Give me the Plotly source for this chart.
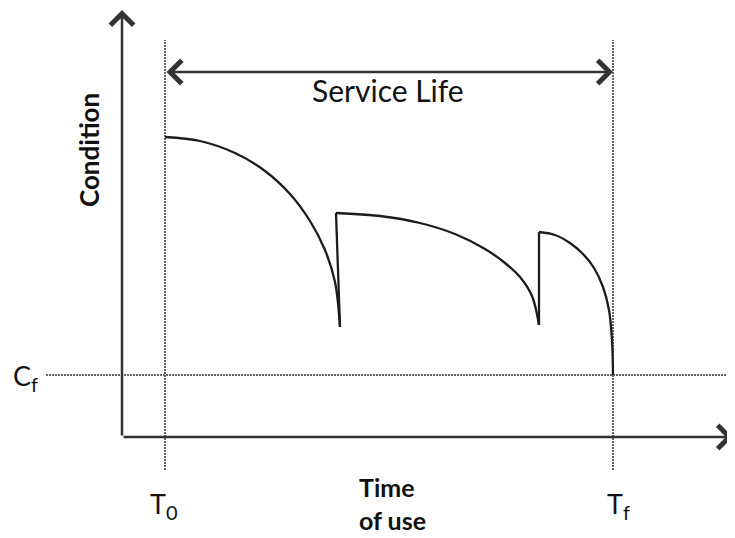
import plotly.graph_objects as go

# time / condition units: origin at the axes corner
T0 = 43
TF = 491
CF = 62

seg1_t = [43, 78, 113, 143, 168, 188, 203, 213, 218]
seg1_c = [300, 296, 284, 266, 243, 216, 187, 155, 110]

seg2_t = [214, 258, 298, 333, 363, 383, 398, 410, 417]
seg2_c = [224, 221, 214, 203, 188, 174, 160, 141, 112]

seg3_t = [417, 433, 448, 461, 472, 481, 487, 490, 491]
seg3_c = [205, 202, 194, 183, 169, 150, 127, 97, 62]

FONT = "Lato, 'Open Sans', sans-serif"
INK = "#1c1c1c"
AXIS = "#333333"
DOT = "#666666"

fig = go.Figure()

def line(x, y, shape="spline"):
    fig.add_trace(go.Scatter(x=x, y=y, mode="lines", line=dict(color=INK, width=2.3, shape=shape),
                             hoverinfo="skip", showlegend=False))

line(seg1_t, seg1_c)
line([seg1_t[-1], seg2_t[0]], [seg1_c[-1], seg2_c[0]], "linear")
line(seg2_t, seg2_c)
line([seg2_t[-1], seg3_t[0]], [seg2_c[-1], seg3_c[0]], "linear")
line(seg3_t, seg3_c)

# dotted reference lines
dot = dict(color=DOT, width=2, dash="2px,1px")
fig.add_shape(type="line", x0=T0, x1=T0, y0=-33, y1=397, line=dot, layer="below")
fig.add_shape(type="line", x0=TF, x1=TF, y0=-33, y1=397, line=dot, layer="below")
fig.add_shape(type="line", x0=-76, x1=621, y0=CF, y1=CF, line=dot, layer="below")

# axes with open arrowheads
arrow = dict(text="", showarrow=True, arrowhead=4, arrowwidth=2.5, arrowsize=1.8,
             arrowcolor=AXIS, xref="x", yref="y", axref="x", ayref="y")
fig.add_annotation(x=0, y=427, ax=0, ay=0, **arrow)
fig.add_annotation(x=611, y=0, ax=0, ay=0, **arrow)

# service life double arrow
fig.add_annotation(x=TF, y=365, ax=T0, ay=365, arrowside="end+start", startarrowhead=4,
                   startarrowsize=1.8, **arrow)

txt = dict(showarrow=False, xref="x", yref="y")
sub = "<sub><span style='font-size:20px'>{}</span></sub>"
fig.add_annotation(x=266, y=347, text="Service Life", font=dict(family=FONT, size=30, color="#111"), **txt)
fig.add_annotation(x=-33, y=287, text="<b>Condition</b>", textangle=-90,
                   font=dict(family=FONT, size=26, color="#111"), **txt)
fig.add_annotation(x=270, y=-66, text="<b>Time<br>of use</b>", align="left",
                   font=dict(family=FONT, size=25, color="#111"), **txt)
fig.add_annotation(x=42, y=-68, text="T" + sub.format("0"), font=dict(family=FONT, size=27, color="#111"), **txt)
fig.add_annotation(x=496, y=-68, text="T" + sub.format("f"), font=dict(family=FONT, size=27, color="#111"), **txt)
fig.add_annotation(x=-97, y=60, text="C" + sub.format("f"), font=dict(family=FONT, size=27, color="#111"), **txt)

# the page body adds an 8px offset, so the ranges are shifted to compensate
fig.update_layout(
    width=735, height=538,
    margin=dict(l=0, r=0, t=0, b=0),
    paper_bgcolor="white", plot_bgcolor="white",
    xaxis=dict(range=[-114, 621], visible=False, fixedrange=True),
    yaxis=dict(range=[-109, 429], visible=False, fixedrange=True),
)

fig.write_html("out.html")
